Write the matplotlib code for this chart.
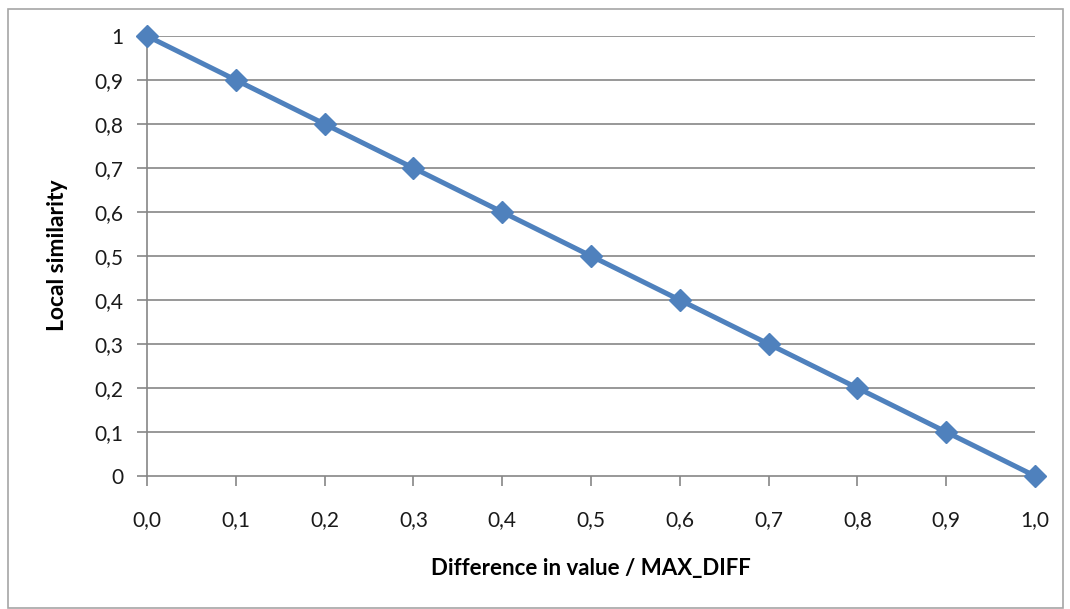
import matplotlib
matplotlib.use("Agg")
import matplotlib.pyplot as plt
from matplotlib.patches import Rectangle

# difference in value / MAX_DIFF against local similarity
diff = [0.0, 0.1, 0.2, 0.3, 0.4, 0.5, 0.6, 0.7, 0.8, 0.9, 1.0]
similarity = [1.0, 0.9, 0.8, 0.7, 0.6, 0.5, 0.4, 0.3, 0.2, 0.1, 0.0]
x_labels = ["0,0", "0,1", "0,2", "0,3", "0,4", "0,5", "0,6", "0,7", "0,8", "0,9", "1,0"]
y_ticks = [0, 0.1, 0.2, 0.3, 0.4, 0.5, 0.6, 0.7, 0.8, 0.9, 1.0]
y_labels = ["0", "0,1", "0,2", "0,3", "0,4", "0,5", "0,6", "0,7", "0,8", "0,9", "1"]

plt.rcParams['font.family'] = ['Lato', 'DejaVu Sans']

fig = plt.figure(figsize=(10.7, 6.09), dpi=100)
fig.patches.append(Rectangle((8 / 1070, 0.002), 1055 / 1070, 1 - 9 / 609 - 0.002,
                             transform=fig.transFigure, fill=False,
                             edgecolor="#a6a6a6", linewidth=1.2))

ax = fig.add_axes([147 / 1070, 1 - 476 / 609, (1035 - 147) / 1070, (476 - 36) / 609])
ax.set_xlim(0, 1.0)
ax.set_ylim(0, 1.0)

for v in y_ticks[1:]:
    ax.axhline(v, color="#868686", linewidth=1.2, zorder=1)

ax.plot(diff, similarity, color="#4f81bd", linewidth=3.6, marker="D",
        markersize=11, clip_on=False, zorder=3)

ax.set_xticks(diff)
ax.set_xticklabels(x_labels)
ax.set_yticks(y_ticks)
ax.set_yticklabels(y_labels)
ax.tick_params(axis="both", direction="out", length=7.2, width=1.2, color="#868686",
               labelsize=15, labelcolor="#1a1a1a")
ax.tick_params(axis="x", pad=17)
ax.tick_params(axis="y", pad=10)

for s in ["top", "right"]:
    ax.spines[s].set_visible(False)
for s in ["left", "bottom"]:
    ax.spines[s].set_color("#868686")
    ax.spines[s].set_linewidth(1.2)

fig.text(57 / 1070, 1 - 255 / 609, "Local similarity", rotation=90, ha="center",
         va="center", fontsize=16.5, fontweight="bold")
fig.text(591 / 1070, 1 - 568 / 609, "Difference in value / MAX_DIFF", ha="center",
         va="center", fontsize=16, fontweight="bold")

fig.savefig("out.png", dpi=100)
